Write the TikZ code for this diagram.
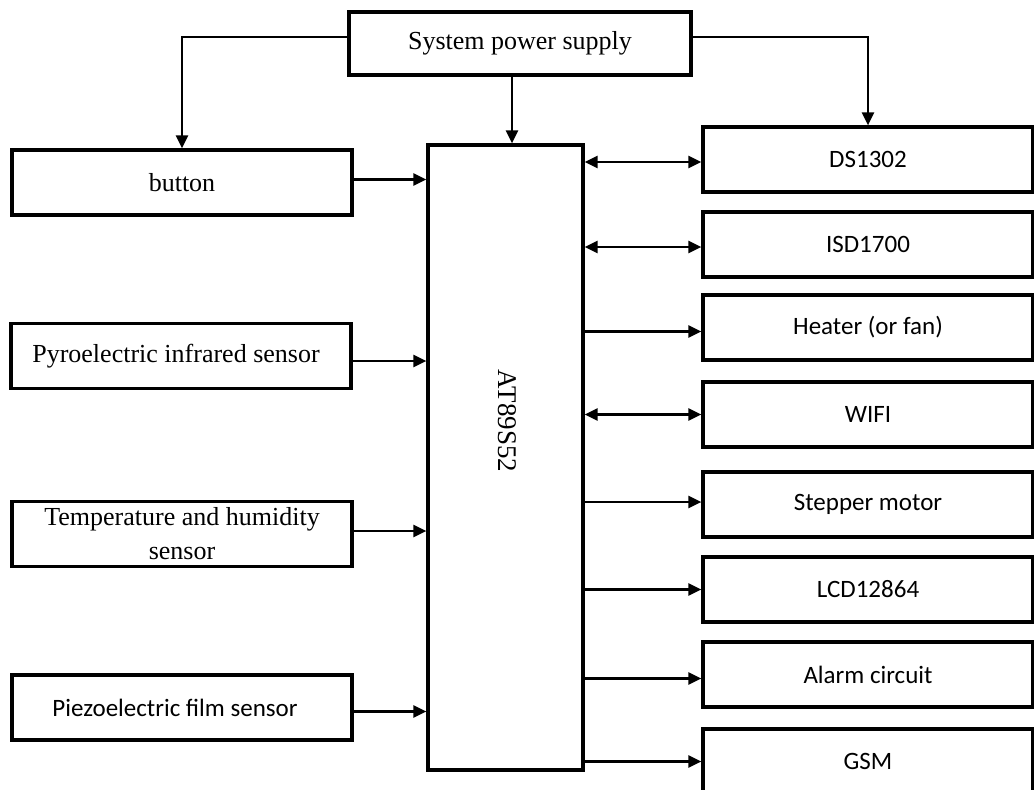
\documentclass[tikz,border=0pt]{standalone}
\usepackage{fontspec}
\setmainfont{Liberation Serif}
\newfontfamily\carlitofont{Carlito}
\usetikzlibrary{arrows.meta}
\tikzset{
  x=1pt, y=-1pt,
  blk/.style={draw, line width=3.2pt, inner sep=0pt, align=center},
  lbox/.style={blk, minimum width=340pt, minimum height=65pt, font=\fontsize{26}{29}\selectfont},
  rbox/.style={blk, minimum width=330pt, minimum height=65pt, font=\carlitofont\fontsize{25}{29}\selectfont},
  arr/.style={line width=2.4pt, -{Triangle[length=13pt,width=12pt]}},
  darr/.style={line width=2.4pt, {Triangle[length=13pt,width=12pt]}-{Triangle[length=13pt,width=12pt]}},
}
\begin{document}
\begin{tikzpicture}
\useasboundingbox (0,0) rectangle (1034,790);
\fill[white] (0,0) rectangle (1034,790);
\begin{scope}
\clip (0,0) rectangle (1034,790);
% top
\node[blk, minimum width=342pt, minimum height=63pt, font=\fontsize{26}{29}\selectfont] (psu) at (520,43.5) {System power supply};
% microcontroller
\node[blk, minimum width=155pt, minimum height=625pt] (mcu) at (505.5,457.5) {};
\node[rotate=-90, font=\fontsize{27}{30}\selectfont] (mcutxt) at (507,421) {AT89S52};
% left boxes
\node[lbox] (button) at (182,182.5) {button};
\node[lbox] (pyro) at (181,356) {Pyroelectric infrared sensor\hspace*{10pt}};
\node[lbox, font=\fontsize{26}{34}\selectfont] (temp) at (182,534) {Temperature and humidity\\sensor};
\node[lbox, font=\carlitofont\fontsize{25}{29}\selectfont] (piezo) at (182,707.5) {Piezoelectric film sensor\hspace*{14pt}};
% right boxes
\node[rbox] (ds) at (868,159.5) {DS1302};
\node[rbox] (isd) at (868,244.5) {ISD1700};
\node[rbox] (heat) at (868,327.5) {Heater (or fan)};
\node[rbox] (wifi) at (868,414.5) {WIFI};
\node[rbox] (step) at (868,504.5) {Stepper motor};
\node[rbox] (lcd) at (868,589.5) {LCD12864};
\node[rbox] (alarm) at (868,674.5) {Alarm circuit};
\node[rbox] (gsm) at (868,761.5) {GSM};
% power connectors
\coordinate (mx) at (512,0);
\draw[arr] ([yshift=6.5pt]psu.west) -| (button.north);
\draw[arr] ([yshift=6.5pt]psu.east) -| (ds.north);
\draw[arr] (psu.south -| mx) -- (mcu.north -| mx);
% left connectors
\draw[arr] ([yshift=3pt]button.east) -- ([yshift=3pt]button.east -| mcu.west);
\draw[arr] ([yshift=-5pt]pyro.east) -- ([yshift=-5pt]pyro.east -| mcu.west);
\draw[arr] ([yshift=3pt]temp.east) -- ([yshift=3pt]temp.east -| mcu.west);
\draw[arr] ([yshift=-4pt]piezo.east) -- ([yshift=-4pt]piezo.east -| mcu.west);
% right connectors
\draw[darr] ([yshift=-2.5pt]ds.west -| mcu.east) -- ([yshift=-2.5pt]ds.west);
\draw[darr] ([yshift=-2.5pt]isd.west -| mcu.east) -- ([yshift=-2.5pt]isd.west);
\draw[arr] ([yshift=-4pt]heat.west -| mcu.east) -- ([yshift=-4pt]heat.west);
\draw[darr] (wifi.west -| mcu.east) -- (wifi.west);
\draw[arr] ([yshift=2.5pt]step.west -| mcu.east) -- ([yshift=2.5pt]step.west);
\draw[arr] (lcd.west -| mcu.east) -- (lcd.west);
\draw[arr] ([yshift=-4pt]alarm.west -| mcu.east) -- ([yshift=-4pt]alarm.west);
\draw[arr] (gsm.west -| mcu.east) -- (gsm.west);
\end{scope}
\end{tikzpicture}
\end{document}
